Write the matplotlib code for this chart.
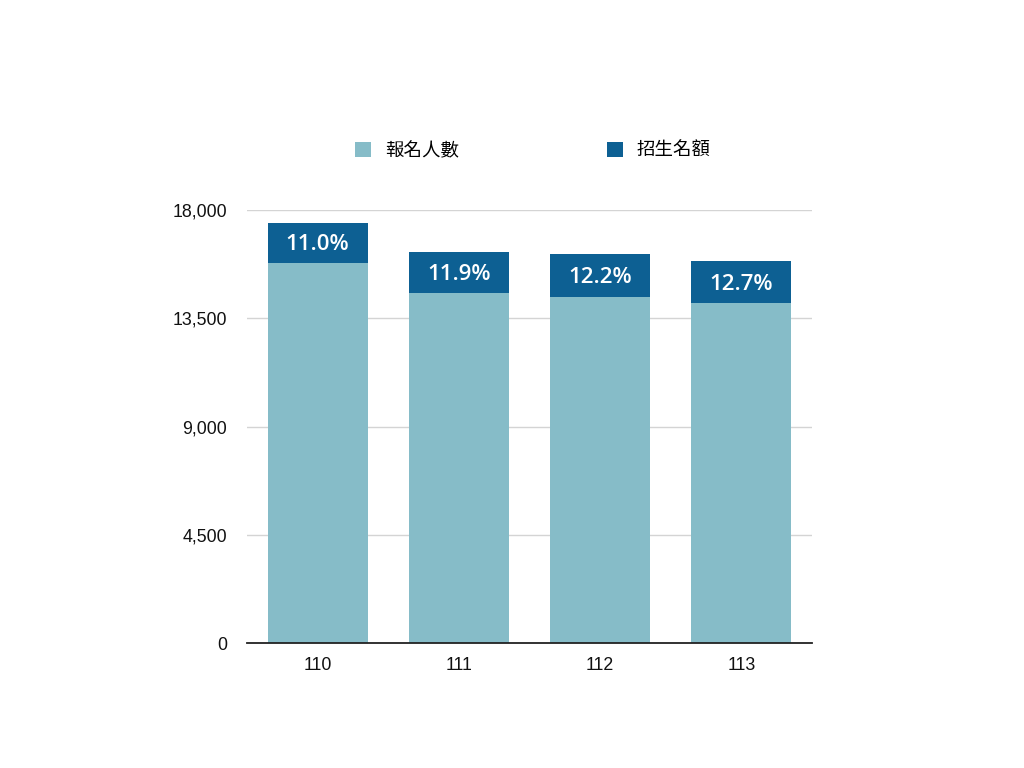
import matplotlib
matplotlib.use("Agg")
import matplotlib.pyplot as plt
import numpy as np

years = ["110", "111", "112", "113"]
applicants = [15800, 14540, 14400, 14130]   # 報名人數
quota = [1660, 1715, 1785, 1745]            # 招生名額
rate_labels = ["11.0%", "11.9%", "12.2%", "12.7%"]
y_ticks = [0, 4500, 9000, 13500, 18000]

light = "#86bcc8"
dark = "#0d6093"

plt.rcParams['font.family'] = ['Liberation Sans', 'Noto Sans CJK TC', 'DejaVu Sans']

fig = plt.figure(figsize=(10.24, 7.68), dpi=100)
ax = fig.add_axes([247 / 1024, 125 / 768, 565 / 1024, 433 / 768])

x = np.arange(len(years))
w = 0.708
ax.bar(x, applicants, width=w, color=light, label="報名人數", zorder=2)
ax.bar(x, quota, width=w, bottom=applicants, color=dark, label="招生名額", zorder=2)

# percentage labels centred on the dark segment
for i in range(len(years)):
    ax.text(x[i], applicants[i] + quota[i] * 0.45, rate_labels[i], ha="center", va="center",
            color="white", fontsize=16, family=["Open Sans", "DejaVu Sans"],
            fontweight="semibold", zorder=3)

ax.set_xlim(-0.5, len(years) - 0.5)
ax.set_ylim(0, 18000)
ax.set_yticks(y_ticks)
ax.set_yticklabels([f"{v:,}" for v in y_ticks])
ax.set_xticks(x)
ax.set_xticklabels(years)
ax.tick_params(axis="y", length=0, pad=14.4, labelsize=12.8, colors="#111111")
ax.tick_params(axis="x", length=0, pad=10, labelsize=12.8, colors="#111111")
ax.grid(axis="y", color="#d4d4d4", linewidth=1, zorder=0)

for s in ["top", "right", "left"]:
    ax.spines[s].set_visible(False)
ax.spines["bottom"].set_color("#222222")
ax.spines["bottom"].set_linewidth(1.3)
ax.spines["bottom"].set_zorder(4)

ax.legend(loc="center", bbox_to_anchor=(0.506, 1.136), ncol=2, frameon=False,
          fontsize=13.3, handlelength=0.87, handleheight=0.87, handletextpad=0.75,
          columnspacing=8.0)

fig.savefig("out.png", dpi=100)
